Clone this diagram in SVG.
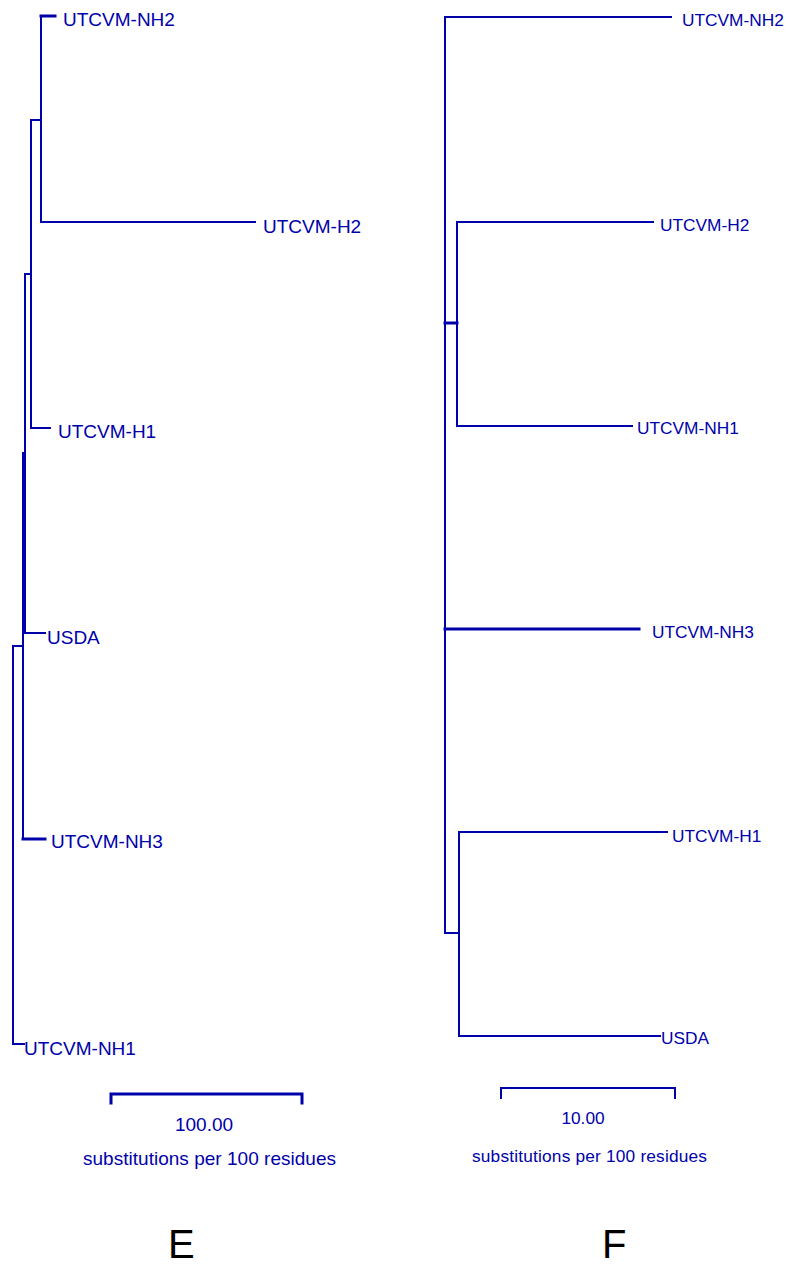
<svg xmlns="http://www.w3.org/2000/svg" width="791" height="1265" viewBox="0 0 791 1265">
<style>
.br{stroke:#0000AA;stroke-width:2;fill:none;stroke-linecap:square}
.th{stroke-width:3}
.lE{font-family:"Liberation Sans",Arial,sans-serif;font-size:19px;fill:#0000AA}
.lF{font-family:"Liberation Sans",Arial,sans-serif;font-size:17.3px;fill:#0000AA}
.pn{font-family:"Liberation Sans",Arial,sans-serif;font-size:40px;fill:#000}
</style>
<rect width="791" height="1265" fill="#fff"/>
<g id="connectors">
  <!-- Tree E -->
  <path class="br th" d="M41,16 H55"/>
  <path class="br" d="M41,16 V222 H255"/>
  <path class="br" d="M31,120 H41"/>
  <path class="br" d="M31,120 V428 H50"/>
  <path class="br" d="M25,274 H31"/>
  <path class="br" d="M25,274 V633 H45"/>
  <path class="br" d="M23,453 H25"/>
  <path class="br" d="M23,453 V839"/>
  <path class="br th" d="M23,839 H45"/>
  <path class="br" d="M13,646 H23"/>
  <path class="br" d="M13,646 V1044 H24"/>
  <!-- Tree F -->
  <path class="br" d="M445,17 V933"/>
  <path class="br" d="M445,17 H671"/>
  <path class="br th" d="M445,323 H457"/>
  <path class="br" d="M457,222 V426"/>
  <path class="br" d="M457,222 H653"/>
  <path class="br" d="M457,426 H632"/>
  <path class="br th" d="M445,629 H639"/>
  <path class="br" d="M445,933 H459"/>
  <path class="br" d="M459,832 V1036"/>
  <path class="br" d="M459,832 H667"/>
  <path class="br" d="M459,1036 H660"/>
</g>
<g id="E-UTCVM-NH2"><text class="lE" x="63" y="26">UTCVM-NH2</text></g>
<g id="E-UTCVM-H2"><text class="lE" x="263" y="233">UTCVM-H2</text></g>
<g id="E-UTCVM-H1"><text class="lE" x="58" y="438">UTCVM-H1</text></g>
<g id="E-USDA"><text class="lE" x="47" y="644">USDA</text></g>
<g id="E-UTCVM-NH3"><text class="lE" x="51" y="848">UTCVM-NH3</text></g>
<g id="E-UTCVM-NH1"><text class="lE" x="24" y="1055">UTCVM-NH1</text></g>
<g id="F-UTCVM-NH2"><text class="lF" x="682" y="26">UTCVM-NH2</text></g>
<g id="F-UTCVM-H2"><text class="lF" x="660" y="231">UTCVM-H2</text></g>
<g id="F-UTCVM-NH1"><text class="lF" x="637" y="434">UTCVM-NH1</text></g>
<g id="F-UTCVM-NH3"><text class="lF" x="652" y="638">UTCVM-NH3</text></g>
<g id="F-UTCVM-H1"><text class="lF" x="672" y="842">UTCVM-H1</text></g>
<g id="F-USDA"><text class="lF" x="661" y="1044">USDA</text></g>
<g id="scale-E">
  <path class="br th" d="M111,1103 V1094 H302 V1103"/>
  <text class="lE" x="204" y="1131" text-anchor="middle">100.00</text>
  <text class="lE" x="83" y="1165" textLength="253">substitutions per 100 residues</text>
</g>
<g id="scale-F">
  <path class="br" d="M501,1098 V1088 H675 V1098"/>
  <text class="lF" x="583" y="1124" text-anchor="middle">10.00</text>
  <text class="lF" x="472" y="1162" textLength="235">substitutions per 100 residues</text>
</g>
<g id="panel-E"><text class="pn" x="168" y="1258">E</text></g>
<g id="panel-F"><text class="pn" x="602" y="1258">F</text></g>
</svg>
